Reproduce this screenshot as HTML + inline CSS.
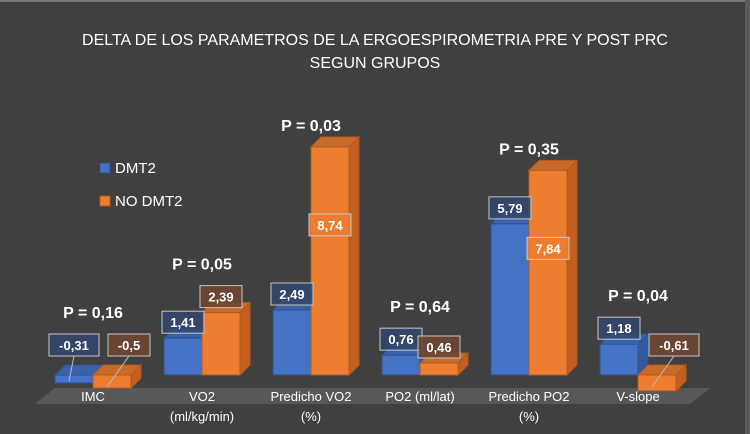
<!DOCTYPE html>
<html><head><meta charset="utf-8"><style>
html,body{margin:0;padding:0;background:#404040;}
svg{display:block;font-family:"Liberation Sans",sans-serif;}
</style></head><body>
<svg id="chart" width="750" height="434" viewBox="0 0 750 434">
<rect x="0" y="0" width="750" height="434" fill="#404040"/>
<rect x="0" y="0" width="750" height="2" fill="#777"/>
<rect x="745" y="0" width="5" height="434" fill="#5a5a5a"/>
<text x="375" y="45" fill="#fff" font-size="16" text-anchor="middle">DELTA DE LOS PARAMETROS DE LA ERGOESPIROMETRIA PRE Y POST PRC</text>
<text x="375" y="68" fill="#fff" font-size="16" text-anchor="middle">SEGUN GRUPOS</text>
<polygon points="55,388 710,388 690,404 35,404" fill="#585858"/>
<rect x="100" y="163" width="10" height="10" fill="#4472c4" stroke="#2f528f"/>
<text x="115" y="173" fill="#fff" font-size="15">DMT2</text>
<rect x="100" y="196" width="10" height="10" fill="#ed7d31" stroke="#ae5a21"/>
<text x="115" y="206" fill="#fff" font-size="15">NO DMT2</text>
<g id="bars"></g>
</svg>
<script>
const categories = ["IMC", "VO2|(ml/kg/min)", "Predicho VO2|(%)", "PO2 (ml/lat)", "Predicho PO2|(%)", "V-slope"];
const dmt2 = [-0.31, 1.41, 2.49, 0.76, 5.79, 1.18];
const noDmt2 = [-0.5, 2.39, 8.74, 0.46, 7.84, -0.61];
const pValues = ["P = 0,16", "P = 0,05", "P = 0,03", "P = 0,64", "P = 0,35", "P = 0,04"];

const NS = "http://www.w3.org/2000/svg";
const g = document.getElementById("bars");
const base = 375, scale = 26.1, x0 = 55, step = 109, bw = 38, dx = 10, dy = 10;
function yOf(v){ return base - v*scale; }
function xOf(i){ return x0 + i*step; }
function mk(tag, attrs, parent){ const e=document.createElementNS(NS,tag); for(const k in attrs) e.setAttribute(k,attrs[k]); (parent||g).appendChild(e); return e; }
function fmt(v){ return String(v).replace(".", ","); }

function bar(x, v, front, top, side, edge, name){
  const y1 = Math.min(yOf(v), base), y2 = Math.max(yOf(v), base);
  const grp = mk("g", {});
  
  
  mk("polygon", {points:`${x+bw},${y1} ${x+bw+dx},${y1-dy} ${x+bw+dx},${y2-dy} ${x+bw},${y2}`, fill:side, stroke:edge, "stroke-width":1}, grp);
  mk("polygon", {points:`${x},${y1} ${x+dx},${y1-dy} ${x+bw+dx},${y1-dy} ${x+bw},${y1}`, fill:top, stroke:edge, "stroke-width":1}, grp);
  mk("rect", {x:x, y:y1, width:bw, height:y2-y1, fill:front, stroke:edge, "stroke-width":1}, grp);
  return y1;
}
function label(cx, cy, txt, fill, name, lineTo){
  const w = txt.length*8+10;
  if(lineTo){
    const ln = mk("line", {x1:cx, y1:cy+11, x2:lineTo[0], y2:lineTo[1], stroke:"#bbb", "stroke-width":1});
    
    
  }
  const r = mk("rect", {x:cx-w/2, y:cy-11, width:w, height:22, fill:fill, stroke:"#c8c8c8", "stroke-width":1});
  
  
  const t = mk("text", {x:cx, y:cy+5, fill:"#fff", "font-size":13, "font-weight":"bold", "text-anchor":"middle"});
  t.textContent = txt;
  
  
}
function labelPos(cx, v, isOrange){
  if(v < 0) return [cx + (isOrange ? 17 : 0), base - 30];
  if(v > 4 && isOrange) return [cx, yOf(v) + 78];
  return [cx, yOf(v) - 16];
}

categories.forEach((c,i)=>{
  const x = xOf(i);
  const a = dmt2[i], b = noDmt2[i];
  bar(x, a, "#4472c4", "#3a62aa", "#35599c", "#2f528f", "bar-dmt2-"+i);
  bar(x+bw, b, "#ed7d31", "#c9692a", "#c45f1f", "#ae5a21", "bar-no-dmt2-"+i);
  const la = labelPos(x+bw/2, a, false);
  const lb = labelPos(x+bw*1.5, b, true);
  label(la[0], la[1], fmt(a), "rgba(50,70,110,0.85)", "value-dmt2-"+i, a<0?[x+bw/2-5, base+6]:null);
  label(lb[0], lb[1], fmt(b), (b>4) ? "rgba(237,125,49,0.9)" : "rgba(110,70,50,0.9)", "value-no-dmt2-"+i, b<0?[x+bw*1.5-5, base+12]:null);
  const backTop = yOf(Math.max(a,b,0)) - dy;
  const labTop = Math.min(la[1], (b>4)?9999:lb[1]) - 11;
  const pc = Math.min(backTop - 12, labTop - 22);
  const p = mk("text", {x:x+bw, y:pc+6, fill:"#fff", "font-size":16, "font-weight":"bold", "text-anchor":"middle"});
  p.textContent = pValues[i];
  
  
  c.split("|").forEach((line,k)=>{
    const t = mk("text", {x:x+bw, y:401+k*20, fill:"#fff", "font-size":13, "text-anchor":"middle"});
    t.textContent = line;
    
    
  });
});
</script>
</body></html>
